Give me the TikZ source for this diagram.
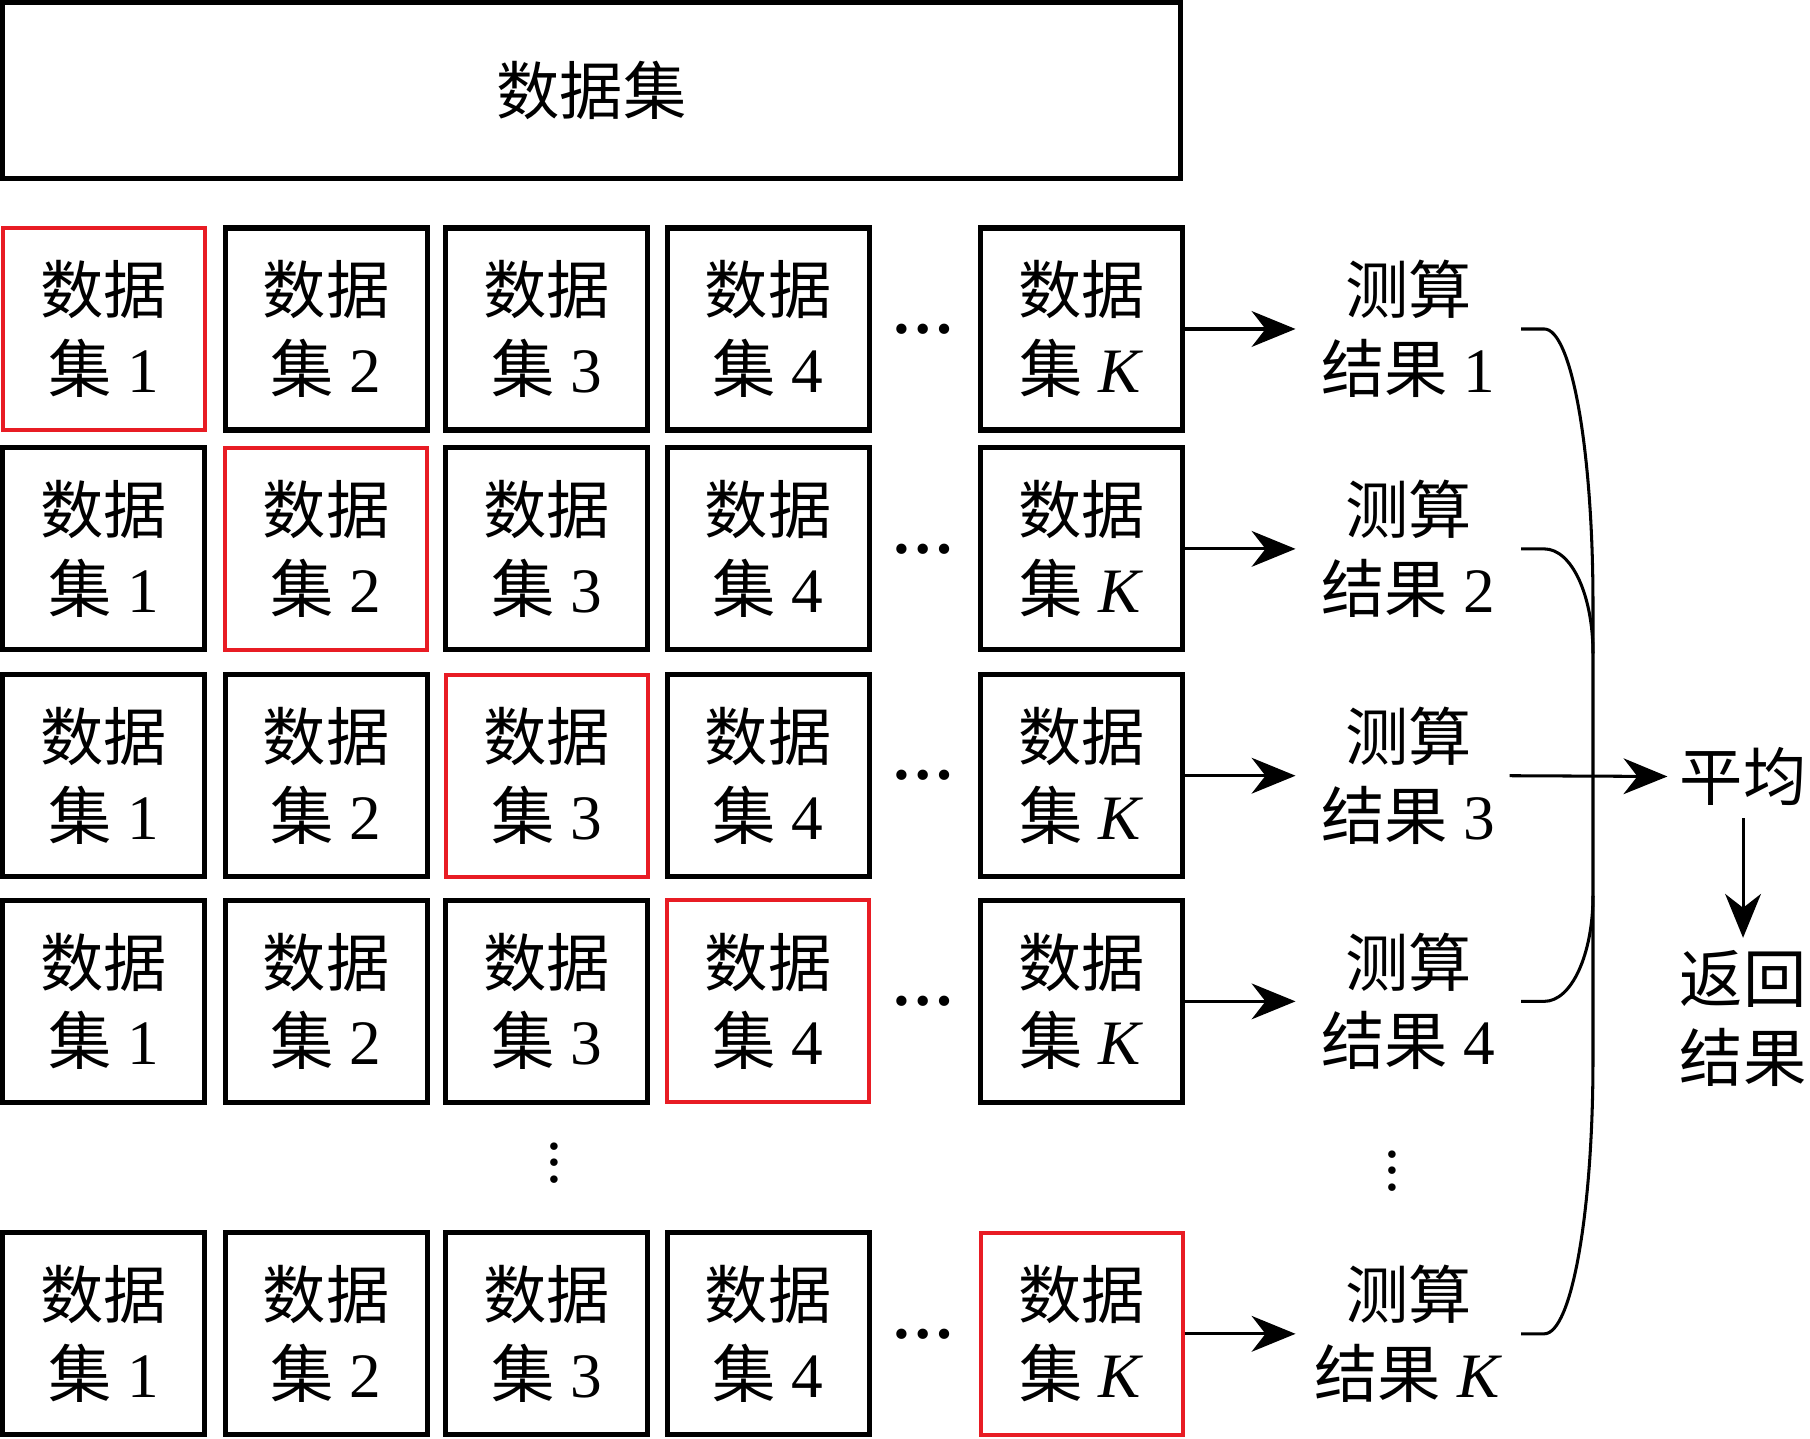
\documentclass[tikz,border=0pt]{standalone}
\usepackage{fontspec}
\setmainfont{Liberation Serif}
\newfontfamily\cjk{Noto Sans CJK SC}
\usetikzlibrary{arrows.meta}

\definecolor{holdout}{RGB}{232,28,36}

\tikzset{
  databox/.style={draw, line width=1.25pt, minimum size=17.5mm, inner sep=0pt, align=center},
  redbox/.style={databox, draw=holdout, line width=1pt},
  result/.style={minimum width=19.4mm, inner sep=0pt, align=center},
  link/.style={line width=0.75pt},
  arr/.style={link, -{Stealth[length=3.8mm,width=3.1mm,inset=1.2mm]}},
}

\begin{document}
\begin{tikzpicture}[x=0.1mm, y=-0.1mm, font=\fontsize{15.6}{19.4}\selectfont]
\useasboundingbox (0,0) rectangle (1568,1246);

% the whole data set
\node[draw, line width=1.25pt, minimum width=102.1mm, minimum height=15.3mm] (all) at (512.5,78.5) {\cjk 数据集};

% one row per round, the red box is held out
\foreach \r/\y in {1/285,2/475.5,3/672,4/867.5,5/1155.5}{
  \foreach \c/\x/\lab in {1/90/1,2/282.5/2,3/473.5/3,4/665.5/4,5/937/\textit{K}}{
    \ifnum\c=\r \def\bx{redbox}\else\def\bx{databox}\fi
    \node[\bx] (d\r\c) at (\x,\y) {{\cjk 数据}\\{\cjk 集} \lab};
  }
  \node[inner sep=0pt] (dots\r) at (800,\y) {\textbf{…}};
}
\node (vd1) at (480,997) {$\vdots$};

% results of each round
\foreach \r/\y/\lab in {1/285/1,2/475.5/2,3/672/3,4/867.5/4,5/1155.5/\textit{K}}{
  \node[result] (res\r) at (1220,\y) {{\cjk 测算}\\{\cjk 结果} \lab};
  \draw[arr] (d\r5) -- (res\r);
}
\node (vd2) at (1206,1004) {$\vdots$};

\node[inner sep=1mm] (avg) at (1510,673) {\cjk 平均};
\node[inner sep=1mm, align=center] (ret) at (1510,882) {{\cjk 返回}\\{\cjk 结果}};

% brace collecting the results
\coordinate (bt) at (1380,523);
\coordinate (b2) at (1380,566);
\coordinate (b4) at (1380,776);
\coordinate (bb) at (1380,918);
\draw[link] (res1.east) -- ++(20,0) .. controls +(24,0) and +(0,-131) .. (bt) -- (bb)
  .. controls +(0,131) and +(24,0) .. ([xshift=2mm]res5.east) -- (res5.east);
\draw[link] (res2.east) -- ++(20,0) .. controls +(24,0) and +(0,-50) .. (b2);
\draw[link] (res4.east) -- ++(20,0) .. controls +(24,0) and +(0,50) .. (b4);

\draw[arr] ([xshift=-1mm]res3.east) -- (avg);
\draw[arr] (avg) -- (ret);

\end{tikzpicture}
\end{document}
